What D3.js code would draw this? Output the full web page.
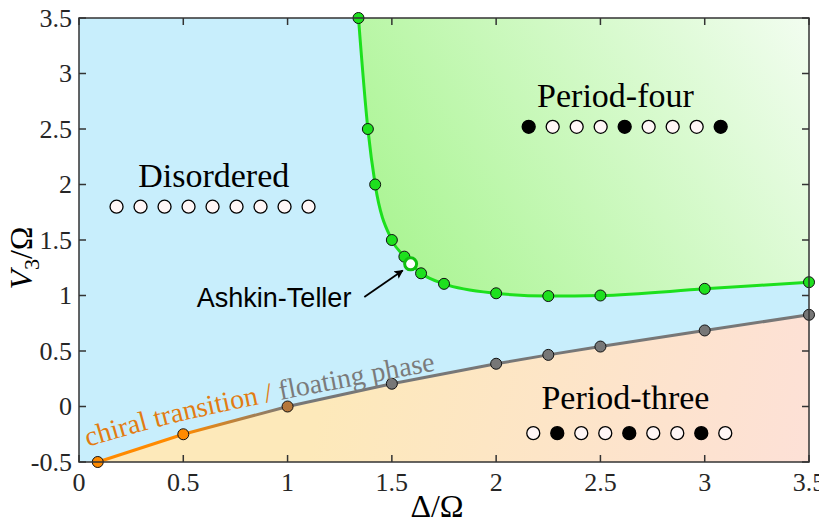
<!DOCTYPE html>
<html>
<head>
<meta charset="utf-8">
<script src="https://cdn.jsdelivr.net/npm/d3@7"></script>
<style>
  body { margin: 0; background: #fff; }
</style>
</head>
<body>
<svg width="819" height="527"></svg>
<script>
(function () {

  // boundary of the period-four phase (green)
  var greenX = [1.34, 1.385, 1.42, 1.5, 1.56, 1.64, 1.75, 2.0, 2.25, 2.5, 3.0, 3.5]
  var greenY = [3.5, 2.5, 2.0, 1.5, 1.35, 1.2, 1.105, 1.02, 0.995, 1.0, 1.06, 1.12]

  // Ashkin-Teller point
  var atX = 1.59
  var atY = 1.285

  // boundary of the period-three phase (chiral -> floating)
  var lowX = [0.09, 0.5, 1.0, 1.5, 2.0, 2.25, 2.5, 3.0, 3.5]
  var lowY = [-0.5, -0.25, 0.0, 0.205, 0.385, 0.465, 0.54, 0.685, 0.826]
  var lowKind = ['chiral', 'chiral', 'mixed', 'floating', 'floating', 'floating', 'floating', 'floating', 'floating']

  // atom chains drawn as little pictograms (1 = excited)
  var disorderedChain = [0, 0, 0, 0, 0, 0, 0, 0, 0]
  var fourChain = [1, 0, 0, 0, 1, 0, 0, 0, 1]
  var threeChain = [0, 1, 0, 0, 1, 0, 0, 1, 0]

  var xTicks = [0, 0.5, 1, 1.5, 2, 2.5, 3, 3.5]
  var yTicks = [-0.5, 0, 0.5, 1, 1.5, 2, 2.5, 3, 3.5]

  var left = 79, right = 809, top = 18, bottom = 462

  var x = d3.scaleLinear().domain([0, 3.5]).range([left, right])
  var y = d3.scaleLinear().domain([-0.5, 3.5]).range([bottom, top])

  var svg = d3.select('svg')
  var defs = svg.append('defs')

  var gGreen = defs.append('linearGradient').attr('id', 'gGreen')
    .attr('gradientUnits', 'userSpaceOnUse')
    .attr('x1', x(1.4)).attr('y1', y(1.0)).attr('x2', x(3.5)).attr('y2', y(3.5))
  gGreen.append('stop').attr('offset', 0).attr('stop-color', '#a5f48c')
  gGreen.append('stop').attr('offset', 1).attr('stop-color', '#f2fdf0')

  var gOrange = defs.append('linearGradient').attr('id', 'gOrange')
    .attr('gradientUnits', 'userSpaceOnUse')
    .attr('x1', x(1.2)).attr('y1', y(0.4)).attr('x2', x(3.6)).attr('y2', y(-0.6))
  gOrange.append('stop').attr('offset', 0).attr('stop-color', '#fde9ba')
  gOrange.append('stop').attr('offset', 1).attr('stop-color', '#fde0d8')

  var gMix = defs.append('linearGradient').attr('id', 'gMix')
    .attr('gradientUnits', 'userSpaceOnUse')
    .attr('x1', x(0.5)).attr('y1', y(-0.25)).attr('x2', x(1.0)).attr('y2', y(0))
  gMix.append('stop').attr('offset', 0).attr('stop-color', '#ff8a00')
  gMix.append('stop').attr('offset', 1).attr('stop-color', '#7a7a7a')

  defs.append('marker').attr('id', 'arrow')
    .attr('viewBox', '0 0 10 10').attr('refX', 9).attr('refY', 5)
    .attr('markerWidth', 9).attr('markerHeight', 9)
    .attr('markerUnits', 'userSpaceOnUse')
    .attr('orient', 'auto')
    .append('path').attr('d', 'M0,0 L10,5 L0,10 L2,5 Z').attr('fill', '#000')

  // background = disordered phase
  svg.append('rect')
    .attr('x', left).attr('y', top)
    .attr('width', right - left).attr('height', bottom - top)
    .attr('fill', '#c8eefc')

  var greenPts = greenX.map(function (v, i) { return [v, greenY[i]] })
  var lowPts = lowX.map(function (v, i) { return [v, lowY[i]] })

  var curve = d3.line().x(d => x(d[0])).y(d => y(d[1])).curve(d3.curveMonotoneX)
  var straight = d3.line().x(d => x(d[0])).y(d => y(d[1]))

  // period-four region
  svg.append('path')
    .attr('d', curve(greenPts) + 'L' + x(3.5) + ',' + y(3.5) + 'Z')
    .attr('fill', 'url(#gGreen)')

  // period-three region
  svg.append('path')
    .attr('d', straight(lowPts) + 'L' + x(3.5) + ',' + y(-0.5) + 'Z')
    .attr('fill', 'url(#gOrange)')

  // lower boundary, segment by segment
  var segColor = { chiral: '#ff8a00', mixed: 'url(#gMix)', floating: '#777' }
  for (var i = 0; i < lowPts.length - 1; i++) {
    svg.append('path')
      .attr('d', straight([lowPts[i], lowPts[i + 1]]))
      .attr('stroke', segColor[lowKind[i + 1]])
      .attr('stroke-width', 3)
      .attr('fill', 'none')
  }

  var dotColor = { chiral: '#ff8a00', mixed: '#b5773a', floating: '#777' }
  svg.selectAll('circle.low')
    .data(lowPts)
    .enter().append('circle')
    .attr('class', 'low')
    .attr('cx', d => x(d[0]))
    .attr('cy', d => y(d[1]))
    .attr('r', 5.5)
    .attr('fill', (d, i) => dotColor[lowKind[i]])
    .attr('stroke', '#111')
    .attr('stroke-width', 1)

  // upper boundary
  svg.append('path')
    .attr('d', curve(greenPts))
    .attr('stroke', '#1de01d')
    .attr('stroke-width', 3)
    .attr('fill', 'none')

  svg.selectAll('circle.green')
    .data(greenPts)
    .enter().append('circle')
    .attr('class', 'green')
    .attr('cx', d => x(d[0]))
    .attr('cy', d => y(d[1]))
    .attr('r', 5.5)
    .attr('fill', '#1ee01e')
    .attr('stroke', '#111')
    .attr('stroke-width', 1)

  svg.append('circle')
    .attr('cx', x(atX)).attr('cy', y(atY)).attr('r', 6)
    .attr('fill', '#fff').attr('stroke', '#10c010').attr('stroke-width', 3)

  // frame and ticks (inside, on all four sides)
  var frame = svg.append('g').attr('stroke', '#333').attr('stroke-width', 1.5)
  frame.append('rect')
    .attr('x', left).attr('y', top)
    .attr('width', right - left).attr('height', bottom - top)
    .attr('fill', 'none')

  xTicks.forEach(function (t) {
    frame.append('line').attr('x1', x(t)).attr('x2', x(t)).attr('y1', bottom).attr('y2', bottom - 7)
    frame.append('line').attr('x1', x(t)).attr('x2', x(t)).attr('y1', top).attr('y2', top + 7)
  })
  yTicks.forEach(function (t) {
    frame.append('line').attr('y1', y(t)).attr('y2', y(t)).attr('x1', left).attr('x2', left + 7)
    frame.append('line').attr('y1', y(t)).attr('y2', y(t)).attr('x1', right).attr('x2', right - 7)
  })

  var serif = '"Liberation Serif", "Times New Roman", serif'

  svg.selectAll('text.xt')
    .data(xTicks)
    .enter().append('text')
    .attr('class', 'xt')
    .attr('x', d => x(d))
    .attr('y', bottom + 29)
    .attr('text-anchor', 'middle')
    .attr('font-family', serif).attr('font-size', 26).attr('fill', '#262626')
    .text(d => String(d))

  svg.selectAll('text.yt')
    .data(yTicks)
    .enter().append('text')
    .attr('class', 'yt')
    .attr('x', left - 7)
    .attr('y', d => y(d) + 8.5)
    .attr('text-anchor', 'end')
    .attr('font-family', serif).attr('font-size', 26).attr('fill', '#262626')
    .text(d => String(d))

  // axis titles
  svg.append('text')
    .attr('x', 437).attr('y', 517)
    .attr('text-anchor', 'middle')
    .attr('font-family', serif).attr('font-size', 32)
    .text('Δ/Ω')

  var yl = svg.append('text')
    .attr('transform', 'translate(32,258) rotate(-90)')
    .attr('text-anchor', 'middle')
    .attr('font-family', serif).attr('font-size', 32)
  yl.append('tspan').attr('font-style', 'italic').text('V')
  yl.append('tspan').attr('font-size', 22).attr('dy', 7).text('3')
  yl.append('tspan').attr('dy', -7).text('/Ω')

  // phase names
  function phaseLabel(txt, cx, by) {
    svg.append('text')
      .attr('x', x(cx)).attr('y', y(by))
      .attr('text-anchor', 'middle')
      .attr('font-family', serif).attr('font-size', 34).attr('fill', '#000')
      .text(txt)
  }
  phaseLabel('Disordered', 0.646, 1.98)
  phaseLabel('Period-four', 2.572, 2.694)
  phaseLabel('Period-three', 2.62, -0.02)

  // atom chains
  function chain(states, x0, y0) {
    var step = 24
    svg.selectAll(null)
      .data(states)
      .enter().append('circle')
      .attr('cx', (d, i) => x(x0) + i * step)
      .attr('cy', y(y0))
      .attr('r', 6.5)
      .attr('fill', d => d ? '#000' : '#fff6f6')
      .attr('stroke', '#000')
      .attr('stroke-width', 1.3)
  }
  chain(disorderedChain, 0.18, 1.8)
  chain(fourChain, 2.156, 2.52)
  chain(threeChain, 2.178, -0.24)

  // text following the lower boundary
  var textGuide = [[0.043, -0.363], [0.388, -0.18], [0.919, 0.042], [1.8, 0.355]]
  defs.append('path').attr('id', 'guide')
    .attr('d', d3.line().x(d => x(d[0])).y(d => y(d[1])).curve(d3.curveNatural)(textGuide))
  var lt = svg.append('text')
    .attr('font-family', serif).attr('font-size', 28)
  var tp = lt.append('textPath').attr('href', '#guide')
  tp.append('tspan').attr('fill', '#e27c12').text('chiral transition / ')
  tp.append('tspan').attr('fill', '#7b7b7b').text('floating phase')

  // Ashkin-Teller annotation
  svg.append('text')
    .attr('x', x(0.565)).attr('y', y(0.9))
    .attr('font-family', '"Liberation Sans", Arial, sans-serif').attr('font-size', 27)
    .text('Ashkin-Teller')

  svg.append('line')
    .attr('x1', x(1.368)).attr('y1', y(0.986))
    .attr('x2', x(1.552)).attr('y2', y(1.225))
    .attr('stroke', '#000').attr('stroke-width', 1.8)
    .attr('marker-end', 'url(#arrow)')

})()
</script>
</body>
</html>
